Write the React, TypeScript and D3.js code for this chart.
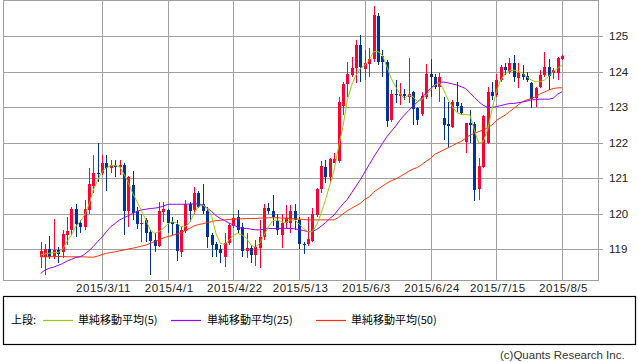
import React from "react";
import * as d3 from "d3";

// USD/JPY daily candles, 2015/2/19 - 2015/8/5 (weekdays)
const openVals = [
  118.77, 118.78, 118.99, 118.77, 118.97, 118.92, 119.39, 119.54, 120.12, 119.74,
  119.62, 120.10, 120.77, 121.15, 121.13, 121.41, 121.27, 121.37, 121.32, 121.37,
  120.08, 120.80, 120.08, 119.70, 119.82, 119.49, 119.25, 119.08, 120.04, 120.10,
  119.77, 119.70, 118.92, 119.52, 120.27, 120.10, 120.59, 120.27, 120.08, 119.39,
  119.14, 118.99, 118.78, 119.18, 119.65, 119.89, 119.63, 118.95, 119.02, 118.83,
  119.02, 119.33, 120.15, 120.08, 119.80, 119.39, 119.74, 119.74, 120.08, 119.82,
  119.14, 119.14, 119.23, 119.96, 120.68, 121.32, 121.02, 121.43, 121.49, 123.03,
  123.65, 123.90, 124.09, 124.75, 124.06, 124.21, 124.34, 125.56, 124.44, 124.28,
  122.63, 123.38, 123.31, 123.38, 123.29, 123.42, 122.96, 122.79, 123.28, 123.93,
  123.84, 123.57, 122.68, 122.52, 122.45, 123.15, 123.03, 122.02, 122.56, 122.52,
  120.68, 121.32, 121.98, 123.43, 123.34, 123.76, 124.14, 124.00, 124.23, 123.81,
  123.93, 123.87, 123.67, 123.24, 123.55, 123.90, 124.14, 123.97, 123.97, 124.34,
];
const highVals = [
  119.21, 119.15, 119.37, 119.84, 119.07, 119.54, 119.91, 120.19, 120.27, 119.82,
  120.38, 121.27, 121.65, 122.00, 121.65, 121.65, 121.51, 121.51, 121.51, 121.41,
  121.06, 121.20, 120.19, 120.00, 119.86, 119.54, 119.44, 120.33, 120.33, 120.12,
  119.91, 119.82, 119.63, 120.38, 120.33, 120.74, 120.62, 120.83, 120.19, 119.44,
  119.21, 119.11, 119.44, 119.72, 120.00, 120.10, 119.74, 119.44, 119.11, 119.25,
  119.82, 120.27, 120.29, 120.52, 120.00, 120.00, 120.24, 120.24, 120.27, 119.91,
  119.21, 119.91, 120.15, 120.71, 121.49, 121.51, 121.55, 121.71, 123.29, 123.71,
  124.28, 124.42, 124.89, 125.03, 124.61, 124.65, 125.85, 125.64, 124.61, 124.32,
  123.48, 123.76, 123.67, 123.52, 124.39, 123.45, 123.01, 123.42, 124.22, 124.36,
  123.94, 123.97, 123.29, 123.15, 123.20, 123.71, 123.10, 122.56, 122.92, 122.59,
  121.55, 122.77, 123.55, 123.71, 123.93, 124.18, 124.23, 124.37, 124.46, 124.23,
  124.18, 123.99, 123.71, 123.55, 124.04, 124.55, 124.34, 124.10, 124.40, 124.46,
];
const lowVals = [
  118.46, 118.27, 118.71, 118.71, 118.60, 118.74, 119.11, 119.39, 119.35, 119.44,
  119.54, 120.00, 120.57, 120.90, 121.08, 120.64, 121.13, 121.04, 121.08, 119.39,
  119.63, 119.82, 119.55, 119.21, 119.21, 118.27, 118.92, 119.07, 119.77, 119.44,
  119.39, 118.67, 118.78, 119.44, 119.77, 120.00, 120.15, 120.00, 119.02, 118.77,
  118.77, 118.60, 118.50, 119.11, 119.58, 119.44, 118.78, 118.74, 118.60, 118.52,
  118.46, 119.25, 120.00, 119.65, 119.39, 119.02, 119.58, 119.44, 119.54, 118.99,
  118.86, 119.08, 119.21, 119.91, 120.57, 120.85, 120.85, 121.41, 121.41, 122.77,
  123.29, 123.85, 123.67, 123.71, 123.76, 123.85, 124.28, 124.18, 123.84, 122.43,
  122.59, 123.10, 123.06, 123.20, 123.10, 122.50, 122.49, 122.76, 123.23, 123.29,
  123.51, 123.15, 122.07, 121.88, 122.40, 122.87, 122.77, 121.70, 121.98, 120.36,
  120.39, 121.27, 121.96, 123.20, 123.29, 123.71, 123.90, 123.93, 123.71, 123.53,
  123.76, 123.71, 122.96, 122.99, 123.53, 123.85, 123.48, 123.80, 123.76, 124.32,
];
const closeVals = [
  118.95, 119.00, 118.78, 118.97, 118.86, 119.42, 119.52, 120.12, 119.70, 119.63,
  120.12, 120.83, 121.15, 121.11, 121.43, 121.27, 121.37, 121.32, 121.37, 120.08,
  121.04, 120.02, 119.70, 119.74, 119.46, 119.23, 119.08, 120.08, 120.12, 119.74,
  119.70, 118.95, 119.54, 120.27, 120.08, 120.59, 120.19, 120.08, 119.35, 119.11,
  118.97, 118.90, 119.18, 119.68, 119.86, 119.54, 118.95, 119.02, 118.83, 119.05,
  119.35, 120.15, 120.08, 119.91, 119.54, 119.74, 119.86, 120.08, 119.82, 119.14,
  119.11, 119.27, 120.00, 120.68, 121.34, 121.02, 121.53, 121.53, 123.15, 123.65,
  123.93, 124.09, 124.75, 124.14, 124.23, 124.34, 125.59, 124.28, 124.28, 122.61,
  123.38, 123.34, 123.38, 123.31, 123.38, 122.94, 122.62, 123.30, 123.93, 123.84,
  123.56, 123.84, 122.49, 122.46, 123.15, 123.03, 122.82, 122.54, 122.49, 120.66,
  121.34, 122.75, 123.43, 123.31, 123.76, 124.14, 124.04, 124.25, 123.85, 123.95,
  123.85, 123.76, 123.22, 123.53, 123.90, 124.14, 123.87, 124.05, 124.37, 124.44,
];

// moving averages
const ma5 = [
  118.83, 118.86, 118.88, 118.90, 118.90, 118.99, 119.21, 119.39, 119.63, 119.77,
  119.96, 120.24, 120.66, 120.94, 121.18, 121.29, 121.35, 121.35, 121.32, 121.11,
  120.87, 120.57, 120.33, 120.08, 119.82, 119.54, 119.44, 119.49, 119.58, 119.70,
  119.77, 119.74, 119.63, 119.63, 119.74, 120.00, 120.19, 120.24, 120.15, 119.93,
  119.44, 119.16, 119.13, 119.25, 119.39, 119.44, 119.39, 119.30, 119.11, 119.05,
  119.16, 119.39, 119.63, 119.80, 119.82, 119.77, 119.74, 119.82, 119.82, 119.70,
  119.58, 119.49, 119.49, 119.68, 120.00, 120.38, 120.80, 121.23, 121.88, 122.45,
  123.20, 123.62, 123.90, 124.09, 124.18, 124.32, 124.56, 124.56, 124.46, 124.14,
  123.81, 123.57, 123.38, 123.24, 123.34, 123.29, 123.15, 123.20, 123.34, 123.48,
  123.62, 123.69, 123.48, 123.20, 123.01, 122.84, 122.79, 122.79, 122.77, 122.35,
  121.98, 122.02, 122.35, 122.92, 123.43, 123.76, 123.93, 124.02, 124.04, 124.01,
  123.95, 123.84, 123.76, 123.71, 123.71, 123.76, 123.87, 124.00, 124.09, 124.18,
];
const ma25 = [
  118.31, 118.41, 118.46, 118.49, 118.54, 118.59, 118.66, 118.71, 118.76, 118.78,
  118.85, 118.95, 119.07, 119.21, 119.33, 119.49, 119.63, 119.72, 119.82, 119.88,
  119.94, 120.00, 120.06, 120.10, 120.12, 120.14, 120.15, 120.17, 120.21, 120.26,
  120.26, 120.26, 120.26, 120.26, 120.27, 120.27, 120.27, 120.23, 120.15, 120.06,
  119.94, 119.86, 119.80, 119.73, 119.68, 119.61, 119.58, 119.58, 119.56, 119.54,
  119.54, 119.56, 119.58, 119.58, 119.58, 119.58, 119.58, 119.58, 119.57, 119.54,
  119.52, 119.49, 119.49, 119.55, 119.64, 119.74, 119.86, 119.96, 120.12, 120.27,
  120.40, 120.59, 120.77, 120.96, 121.17, 121.38, 121.59, 121.78, 121.97, 122.16,
  122.31, 122.46, 122.63, 122.77, 122.90, 123.03, 123.14, 123.26, 123.40, 123.53,
  123.63, 123.70, 123.70, 123.68, 123.65, 123.62, 123.57, 123.52, 123.40, 123.27,
  123.15, 123.05, 122.99, 122.99, 123.01, 123.04, 123.07, 123.10, 123.10, 123.12,
  123.14, 123.17, 123.20, 123.21, 123.22, 123.22, 123.22, 123.25, 123.36, 123.43,
];
const ma50 = [
  118.78, 118.78, 118.78, 118.79, 118.79, 118.79, 118.78, 118.78, 118.78, 118.78,
  118.78, 118.77, 118.77, 118.80, 118.84, 118.88, 118.90, 118.92, 118.95, 118.97,
  119.00, 119.02, 119.05, 119.08, 119.11, 119.16, 119.21, 119.25, 119.31, 119.35,
  119.38, 119.42, 119.46, 119.52, 119.58, 119.65, 119.69, 119.71, 119.74, 119.77,
  119.80, 119.81, 119.82, 119.83, 119.84, 119.85, 119.85, 119.86, 119.86, 119.86,
  119.87, 119.87, 119.88, 119.88, 119.88, 119.87, 119.87, 119.86, 119.85, 119.84,
  119.83, 119.82, 119.82, 119.82, 119.82, 119.82, 119.82, 119.82, 119.89, 119.99,
  120.08, 120.15, 120.22, 120.29, 120.40, 120.47, 120.60, 120.69, 120.77, 120.85,
  120.92, 120.97, 121.04, 121.11, 121.19, 121.25, 121.30, 121.38, 121.47, 121.55,
  121.67, 121.73, 121.79, 121.85, 121.91, 121.98, 122.03, 122.12, 122.21, 122.26,
  122.31, 122.35, 122.42, 122.49, 122.62, 122.70, 122.77, 122.87, 122.96, 123.06,
  123.15, 123.20, 123.24, 123.29, 123.37, 123.42, 123.48, 123.52, 123.54, 123.54,
];

const priceTicks = [119, 120, 121, 122, 123, 124, 125];
const dateTickIndex = [14, 29, 44, 59, 74, 89, 104, 119];
const dateTickLabels = [
  "2015/3/11", "2015/4/1", "2015/4/22", "2015/5/13",
  "2015/6/3", "2015/6/24", "2015/7/15", "2015/8/5",
];
const legendNames = ["単純移動平均(5)", "単純移動平均(25)", "単純移動平均(50)"];

const UP = "#ff0033";
const DOWN = "#003399";
const GRID = "#a0a0a0";
const MA_COLORS = ["#99cc00", "#9900ff", "#ff3300"];

export default function App() {
  const width = 638;
  const height = 362;
  const plot = { left: 3, right: 598, top: 0, bottom: 280 };

  const x = d3.scaleLinear().domain([0, 119]).range([40.7, 562]);
  const y = d3.scaleLinear().domain([119, 125]).range([249, 36]);

  const line = d3
    .line<number>()
    .x((_, i) => x(i))
    .y((d) => y(d));

  const font = "'Liberation Sans', Arial, sans-serif";
  const cjk = "'Noto Sans CJK JP', sans-serif";

  const legendLineX = [43, 171, 316];
  const legendTextX = [78, 207, 351];

  return (
    <svg
      width={width}
      height={height}
      style={{ position: "absolute", left: 0, top: 0, background: "#fff" }}
    >
      <rect x={0} y={0} width={width} height={height} fill="#fff" />

      {/* grid */}
      <g shapeRendering="crispEdges" stroke={GRID} strokeWidth={1}>
        {priceTicks.map((t) => (
          <line key={t} x1={plot.left} x2={plot.right + 5} y1={Math.round(y(t)) + 0.5} y2={Math.round(y(t)) + 0.5} />
        ))}
        {dateTickIndex.map((t) => (
          <line key={t} x1={Math.round(x(t)) + 0.5} x2={Math.round(x(t)) + 0.5} y1={plot.top} y2={plot.bottom} />
        ))}
        <rect
          x={plot.left + 0.5}
          y={plot.top + 0.5}
          width={plot.right - plot.left}
          height={plot.bottom - plot.top}
          fill="none"
        />
      </g>

      {/* candles */}
      <g shapeRendering="crispEdges">
        {closeVals.map((c, i) => {
          const o = openVals[i];
          const cx = Math.round(x(i));
          const col = c >= o ? UP : DOWN;
          const top = y(Math.max(o, c));
          const bot = y(Math.min(o, c));
          return (
            <g key={i}>
              <line x1={cx + 0.5} x2={cx + 0.5} y1={y(highVals[i])} y2={y(lowVals[i])} stroke={col} />
              <rect x={cx - 1} y={top} width={3} height={Math.max(1, bot - top)} fill={col} />
            </g>
          );
        })}
      </g>

      {/* moving averages */}
      <path d={line(ma50) || ""} fill="none" stroke={MA_COLORS[2]} strokeWidth={1} />
      <path d={line(ma25) || ""} fill="none" stroke={MA_COLORS[1]} strokeWidth={1} />
      <path d={line(ma5) || ""} fill="none" stroke={MA_COLORS[0]} strokeWidth={1} />

      {/* price labels */}
      {priceTicks.map((t) => (
        <text key={t} x={609} y={y(t) + 4} fontFamily={font} fontSize={11.5} fill="#222">
          {t}
        </text>
      ))}

      {/* date labels */}
      {dateTickIndex.map((t, k) => (
        <text
          key={t}
          x={x(t) + 1.5}
          y={292}
          textAnchor="middle"
          fontFamily={font}
          fontSize={11.5}
          letterSpacing={0.5}
          fill="#222"
        >
          {dateTickLabels[k]}
        </text>
      ))}

      {/* legend */}
      <rect x={3.5} y={296.5} width={632} height={48} fill="none" stroke="#000" strokeWidth={1.2} />
      <text x={11} y={324} fontFamily={cjk} fontSize={11} fill="#000">
        上段:
      </text>
      {legendNames.map((n, k) => (
        <g key={n}>
          <line x1={legendLineX[k]} x2={legendLineX[k] + 30} y1={320.5} y2={320.5} stroke={MA_COLORS[k]} strokeWidth={1.2} />
          <text x={legendTextX[k]} y={324} fontFamily={cjk} fontSize={11} fill="#000">
            {n}
          </text>
        </g>
      ))}

      <text x={500} y={359} fontFamily={font} fontSize={11.5} fill="#333">
        (c)Quants Research Inc.
      </text>
    </svg>
  );
}
